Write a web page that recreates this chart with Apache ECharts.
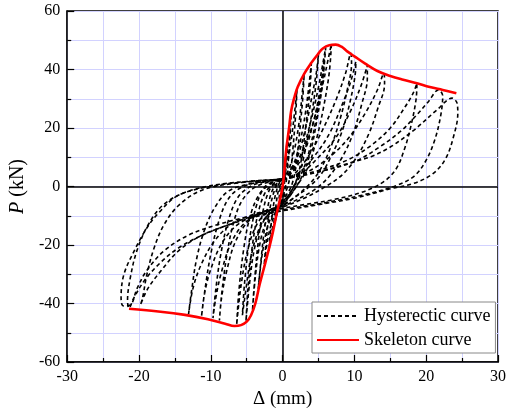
<!DOCTYPE html>
<html>
<head>
<meta charset="utf-8">
<script src="https://cdn.jsdelivr.net/npm/echarts@6/dist/echarts.min.js"></script>
<style>html,body{margin:0;padding:0;background:#fff}#c{width:517px;height:414px}</style>
</head>
<body>
<div id="c"></div>
<script>
// ---- data (Δ in mm, P in kN) ----
const xTicks = [-30, -20, -10, 0, 10, 20, 30];
const yTicks = [-60, -40, -20, 0, 20, 40, 60];

const skeleton = [[-21.4,-41.8],[-17,-42.8],[-13.6,-43.9],[-10.4,-45.4],[-8,-46.9],[-6.7,-47.7],[-5.8,-47.4],[-5,-46.2],[-4.4,-44],[-3.8,-40],[-3.2,-33.5],[-2.4,-26],[-1.6,-18.3],[-0.8,-9],[0,0],[0.5,12.5],[0.9,20],[1.2,26],[1.7,31],[2.1,34],[3,38.5],[3.95,42.1],[5,45.5],[5.6,47.2],[6.5,48.3],[7.4,48.5],[8.2,47.8],[9,46.2],[10,44.5],[11.5,42],[13.2,39.5],[15,37.8],[16.8,36.5],[18.7,35.3],[20.5,34],[22.3,33],[24.2,31.9]];

const loopA = [[0,1.5],[0.3,7],[0.6,15],[0.45,8],[0.25,1],[0,-2.5],[-0.3,-5],[-0.6,-8],[-0.45,-3],[-0.25,0.5],[0,1.5]];
const loopB = [[0,2],[0.5,8],[0.9,17],[1.2,25],[1.0,16],[0.7,6],[0.4,0],[0,-4],[-0.5,-7],[-0.9,-10.5],[-1.2,-14],[-0.9,-6],[-0.5,-0.5],[0,2]];
const loopC = [[0,2.2],[0.6,7],[1.2,16],[1.7,26],[2.0,33],[1.8,24],[1.4,12],[1.0,3],[0.5,-1.5],[0,-4.5],[-0.7,-8],[-1.3,-13],[-1.7,-18],[-1.9,-22],[-1.6,-13],[-1.1,-4],[-0.5,1],[0,2.2]];
const loopD = [[0,2.2],[0.8,5.5],[1.6,12],[2.3,22],[2.7,31],[3.0,38.5],[2.8,30],[2.3,17],[1.8,6],[1.2,0],[0.5,-3],[0,-5],[-0.8,-8],[-1.6,-13],[-2.2,-20],[-2.6,-28],[-2.3,-19],[-1.8,-8],[-1.1,-1],[-0.5,1.5],[0,2.2]];
const loopE = [[0,2.4],[1,5],[2,11],[2.9,21],[3.5,31],[4.0,42],[3.8,33],[3.2,20],[2.6,9],[1.9,2],[1,-2.5],[0,-5.2],[-1,-8],[-2,-13],[-2.7,-21],[-3.1,-28],[-3.4,-35],[-3.0,-25],[-2.5,-14],[-1.8,-4],[-1,0.5],[0,2.4]];
const loopF = [[0,2.4],[1.1,5],[2.2,11],[3.2,20],[4.1,31],[4.7,39],[5.0,45.5],[4.7,36],[4.0,24],[3.2,13],[2.4,5],[1.3,-1],[0,-5.5],[-1.2,-8],[-2.3,-12],[-3.2,-20],[-3.8,-31],[-4.2,-42.5],[-3.9,-32],[-3.4,-19],[-2.7,-8],[-1.8,-1],[-0.8,1.5],[0,2.4]];
const loopG = [[0,2.5],[1.3,5.5],[2.7,12],[3.9,22],[5.0,34],[5.6,42],[6.0,47.5],[5.6,37],[4.8,25],[3.9,14],[2.9,6],[1.6,0],[0,-5.8],[-1.5,-8.5],[-2.8,-12.5],[-3.9,-21],[-4.6,-33],[-5.1,-46],[-4.8,-34],[-4.2,-20],[-3.4,-9],[-2.4,-2],[-1,1.5],[0,2.5]];
const loopH = [[0,2.5],[1.5,6],[3,13],[4.4,23],[5.6,35],[6.3,43],[6.8,48.8],[6.5,39],[5.7,27],[4.7,16],[3.6,7],[2.2,1],[0,-6],[-2,-8.5],[-3.6,-13],[-4.9,-22],[-5.8,-34],[-6.4,-47.3],[-6.1,-36],[-5.4,-21],[-4.5,-10],[-3.2,-2.5],[-1.5,1.2],[0,2.5]];
const loopI = [[0,2.3],[1.4,5],[2.9,11],[4.2,21],[5.2,33],[5.8,43.8],[5.5,34],[4.8,23],[3.9,12],[2.8,4],[1.5,-1.5],[0,-6.2],[-1.8,-9],[-3.2,-14],[-4.4,-24],[-5.1,-35],[-5.6,-44],[-5.3,-33],[-4.6,-18],[-3.7,-7],[-2.6,-0.5],[-1.2,1.8],[0,2.3]];
const loopJ = [[0,2.6],[1.5,4],[3.5,10],[5.5,19],[7.5,30],[8.8,39],[9.5,45.5],[9.6,42],[9.0,33],[8.0,23],[6.8,14],[5.3,6],[3.8,1],[2,-3],[0,-6.3],[-2.5,-8.5],[-4.8,-12],[-6.6,-19],[-7.8,-29],[-8.5,-38],[-8.8,-45.8],[-8.5,-37],[-7.8,-24],[-6.9,-13],[-5.7,-5],[-4,-0.5],[-2,1.5],[0,2.6]];
const loopK = [[0,2.5],[2,4.2],[4.3,10],[6.5,18],[8.3,28],[9.5,36],[10.2,42.7],[10.1,38],[9.4,29],[8.3,19],[6.9,11],[5.3,4],[3.5,-0.5],[1.5,-4],[0,-6.6],[-3,-9],[-5.5,-13],[-7.3,-20],[-8.6,-30],[-9.3,-38],[-9.7,-45],[-9.3,-35],[-8.6,-23],[-7.6,-12],[-6.3,-4],[-4.5,0],[-2,1.8],[0,2.5]];
const loopL = [[0,2.5],[2.5,4.5],[5,10],[7.5,17],[9.5,26],[11,35],[11.8,41.5],[11.8,37],[11.0,28],[9.8,18],[8.3,10],[6.5,3.5],[4.5,-1],[2,-4.5],[0,-6.8],[-3.5,-9.5],[-6.5,-13.5],[-8.6,-20],[-10.1,-29],[-10.9,-37],[-11.3,-44.5],[-10.8,-35],[-10.0,-23],[-8.9,-12],[-7.5,-4],[-5.5,0],[-2.5,1.8],[0,2.5]];
const loopM = [[0,2.5],[3,4.5],[6,9],[9,16],[11.5,25],[13.2,33],[14.1,38.7],[14.2,35],[13.3,27],[12,18],[10.3,10],[8.3,4],[6,0],[3,-4],[0,-7],[-4,-9.5],[-7.2,-13],[-9.6,-19],[-11.4,-27],[-12.5,-35],[-13.1,-43.6],[-12.7,-36],[-12.0,-25],[-10.9,-15],[-9.4,-7],[-7.5,-1.5],[-4,1.2],[0,2.5]];
const loopN = [[0,2.5],[5,5.5],[9,9],[12.3,14],[15,20],[17,27],[18.2,32],[18.7,35.3],[18.6,30],[17.9,21],[17,13],[15.8,6],[14,1.5],[11,-2],[7,-4.5],[3,-6.2],[0,-7.5],[-4,-10],[-8,-13.5],[-11.5,-17],[-14.5,-22],[-17,-29],[-18.8,-35],[-19.8,-40.5],[-19.5,-38],[-18.9,-30],[-17.9,-21],[-16.5,-13],[-14.5,-6.5],[-11.5,-1.5],[-7,1],[0,2.5]];
const loopO = [[0,2.5],[5,5],[10,8.5],[13.5,13.5],[16.5,19],[18.5,24],[20.3,29],[21.7,33],[22.3,31],[22.0,24],[21.2,16],[20,9],[18.3,3.5],[15.5,0],[11,-3],[6,-5.5],[0,-8],[-4,-10.5],[-8,-13.5],[-11.5,-17],[-14.5,-21],[-17,-26],[-19.2,-32],[-20.7,-38],[-21.4,-41.6],[-21.6,-39],[-21.2,-31],[-20.3,-22],[-18.7,-13],[-16.5,-6],[-13,-1.5],[-8,1],[0,2.5]];
const loopP = [[0,2.5],[5,5],[10,8.5],[12.3,10.2],[15,13.5],[18.3,19.3],[21.5,26.2],[23.6,30.2],[24.3,28.5],[24.4,25],[23.8,17],[22.7,9.5],[21,4.5],[18.3,1.1],[15,-0.8],[10,-4],[5,-6.2],[0,-8.3],[-5,-10.5],[-9,-13],[-13,-16.5],[-16.5,-22],[-19,-29],[-20.3,-35],[-21.2,-40.5],[-22.2,-40.8],[-22.5,-38],[-22.1,-30],[-20.6,-21.7],[-19,-14.5],[-17.3,-9.1],[-14.5,-3],[-9,0.5],[-4,1.8],[0,2.5]];

const hysteresisLoops = [loopA, loopB, loopC, loopD, loopE, loopF, loopG, loopH, loopI, loopJ, loopK, loopL, loopM, loopN, loopO, loopP];

const hystName = 'Hysterectic curve';
const skelName = 'Skeleton curve';

// ---- chart ----
const chart = echarts.init(document.getElementById('c'), null, {renderer: 'canvas'});
const FONT = '"Liberation Serif", "Times New Roman", serif';
const gridColor = '#d2d2ff';

const series = hysteresisLoops.map((loop) => ({
  name: hystName,
  type: 'line',
  data: loop,
  smooth: 0.35,
  symbol: 'none',
  silent: true,
  z: 3,
  lineStyle: {color: '#000', width: 1.6, type: [4, 3]},
  itemStyle: {color: '#000'}
}));

series.push({
  name: skelName,
  type: 'line',
  data: skeleton,
  smooth: 0.4,
  symbol: 'none',
  z: 4,
  lineStyle: {color: '#ff0000', width: 2.6},
  itemStyle: {color: '#ff0000'},
  markLine: {
    silent: true,
    symbol: 'none',
    label: {show: false},
    lineStyle: {color: '#000', width: 1.5, type: 'solid'},
    data: [{xAxis: 0}, {yAxis: 0}],
    z: 2
  }
});

chart.setOption({
  animation: false,
  backgroundColor: '#fff',
  grid: {left: 65, right: 19, top: 11, bottom: 52, show: true, borderColor: '#000', borderWidth: 1.5, backgroundColor: 'transparent'},
  legend: {
    data: [hystName, skelName],
    orient: 'vertical',
    left: 312, top: 302,
    padding: [5, 5, 4, 4],
    itemWidth: 42, itemHeight: 14, itemGap: 6,
    itemStyle: {opacity: 0},
    borderColor: '#888', borderWidth: 1,
    backgroundColor: '#fff',
    textStyle: {fontFamily: FONT, fontSize: 18, color: '#000'},
    z: 10
  },
  xAxis: {
    type: 'value',
    min: xTicks[0], max: xTicks[xTicks.length - 1], interval: 10,
    name: 'Δ (mm)', nameLocation: 'middle', nameGap: 21,
    nameTextStyle: {fontFamily: FONT, fontSize: 19, color: '#000'},
    axisLine: {onZero: false, lineStyle: {color: '#000', width: 1.5}},
    axisTick: {inside: true, length: 7, lineStyle: {color: '#000', width: 1.2}},
    minorTick: {show: true, splitNumber: 2, length: 4, lineStyle: {color: '#000', width: 1.2}},
    axisLabel: {fontFamily: FONT, fontSize: 16, color: '#000', margin: 7},
    splitLine: {show: true, lineStyle: {color: gridColor, width: 1}},
    minorSplitLine: {show: true, lineStyle: {color: gridColor, width: 1}}
  },
  yAxis: {
    type: 'value',
    min: yTicks[0], max: yTicks[yTicks.length - 1], interval: 20,
    name: '{i|P} (kN)', nameLocation: 'middle', nameGap: 31, nameRotate: 90,
    nameTextStyle: {fontFamily: FONT, fontSize: 20, color: '#000', rich: {i: {fontFamily: FONT, fontSize: 20, fontStyle: 'italic', color: '#000'}}},
    axisLine: {onZero: false, lineStyle: {color: '#000', width: 1.5}},
    axisTick: {inside: true, length: 7, lineStyle: {color: '#000', width: 1.2}},
    minorTick: {show: true, splitNumber: 2, length: 4, lineStyle: {color: '#000', width: 1.2}},
    axisLabel: {fontFamily: FONT, fontSize: 16, color: '#000', margin: 7},
    splitLine: {show: true, lineStyle: {color: gridColor, width: 1}},
    minorSplitLine: {show: true, lineStyle: {color: gridColor, width: 1}}
  },
  series: series
});
</script>
</body>
</html>
